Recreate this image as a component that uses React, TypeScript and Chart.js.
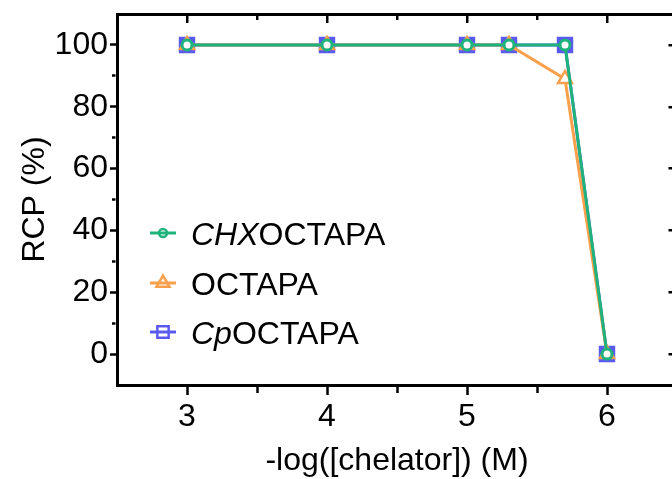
import React, { useEffect, useRef } from 'react';
import { Chart, registerables } from 'chart.js';
import { drawPoint } from 'chart.js/helpers';

Chart.register(...registerables);

// -log([chelator]) values and radiochemical purity (%)
const concentrations = [3, 4, 5, 5.3, 5.7, 6];
const chxOctapaRcp = [100, 100, 100, 100, 100, 0];
const octapaRcp = [100, 100, 100, 100, 89, 0];
const cpOctapaRcp = [100, 100, 100, 100, 100, 0];

// legend names: [italic prefix, upright remainder]
const chxName = ['CHX', 'OCTAPA'];
const octapaName = ['', 'OCTAPA'];
const cpName = ['Cp', 'OCTAPA'];

const xTickValues = [3, 3.5, 4, 4.5, 5, 5.5, 6];
const yTickValues = [0, 10, 20, 30, 40, 50, 60, 70, 80, 90, 100];
const yMirrorTickValues = [0, 20, 40, 60, 80, 100];

const FONT = '"Liberation Sans", Arial, Helvetica, sans-serif';
const FONT_SIZE = 32;
const GREEN = '#1fb27b';
const ORANGE = '#f8a04c';
const BLUE = '#5a5af0';

const CANVAS_W = 690;
const CANVAS_H = 479;

type LegendRow = {
  name: string[];
  color: string;
  style: 'circle' | 'triangle' | 'rect';
  radius: number;
  y: number;
};

const legendRows: LegendRow[] = [
  { name: chxName, color: GREEN, style: 'circle', radius: 4, y: 233 },
  { name: octapaName, color: ORANGE, style: 'triangle', radius: 7.5, y: 283 },
  { name: cpName, color: BLUE, style: 'rect', radius: 8, y: 332 },
];

const legendPlugin = {
  id: 'mixedStyleLegend',
  afterDatasetsDraw(chart: Chart) {
    const ctx = chart.ctx;
    ctx.save();
    for (const row of legendRows) {
      ctx.strokeStyle = row.color;
      ctx.lineWidth = 3;
      ctx.beginPath();
      ctx.moveTo(150, row.y);
      ctx.lineTo(176, row.y);
      ctx.stroke();
      ctx.fillStyle = 'rgba(0,0,0,0)';
      ctx.strokeStyle = row.color;
      ctx.lineWidth = 2.5;
      drawPoint(ctx, { pointStyle: row.style, radius: row.radius, rotation: 0, borderWidth: 2.5 } as any, 163, row.y);
      ctx.fillStyle = '#000';
      ctx.textBaseline = 'alphabetic';
      ctx.textAlign = 'left';
      let x = 191;
      const baseY = row.y + 11.5;
      if (row.name[0]) {
        ctx.font = `italic ${FONT_SIZE}px ${FONT}`;
        ctx.fillText(row.name[0], x, baseY);
        x += ctx.measureText(row.name[0]).width;
      }
      ctx.font = `${FONT_SIZE}px ${FONT}`;
      ctx.fillText(row.name[1], x, baseY);
    }
    ctx.restore();
  },
};

export default function App() {
  const ref = useRef<HTMLCanvasElement | null>(null);

  useEffect(() => {
    if (!ref.current) return;
    const tickFont = { size: FONT_SIZE, family: FONT };
    const chart = new Chart(ref.current, {
      type: 'line',
      data: {
        datasets: [
          {
            label: 'CHXOCTAPA',
            data: concentrations.map((x, i) => ({ x, y: chxOctapaRcp[i] })),
            borderColor: GREEN,
            backgroundColor: '#fff',
            borderWidth: 3,
            pointStyle: 'circle',
            pointRadius: 5,
            pointBorderWidth: 3,
            pointBackgroundColor: '#fff',
            pointBorderColor: GREEN,
            tension: 0,
            order: 1,
          },
          {
            label: 'OCTAPA',
            data: concentrations.map((x, i) => ({ x, y: octapaRcp[i] })),
            borderColor: ORANGE,
            backgroundColor: '#fff',
            borderWidth: 3,
            pointStyle: 'triangle',
            pointRadius: 8,
            pointBorderWidth: 2.5,
            pointBackgroundColor: '#fff',
            pointBorderColor: ORANGE,
            tension: 0,
            order: 2,
          },
          {
            label: 'CpOCTAPA',
            data: concentrations.map((x, i) => ({ x, y: cpOctapaRcp[i] })),
            borderColor: BLUE,
            backgroundColor: BLUE,
            borderWidth: 3,
            pointStyle: 'rect',
            pointRadius: 9.5,
            pointBorderWidth: 3,
            pointBackgroundColor: BLUE,
            pointBorderColor: BLUE,
            tension: 0,
            order: 3,
          },
        ],
      },
      options: {
        animation: false,
        responsive: false,
        devicePixelRatio: 1,
        layout: { padding: 0 },
        plugins: { legend: { display: false }, tooltip: { enabled: false } },
        scales: {
          x: {
            type: 'linear',
            position: 'bottom',
            min: 2.5,
            max: 6.5,
            afterBuildTicks: (s: any) => {
              s.ticks = xTickValues.map((value) => ({ value }));
            },
            afterFit: (s: any) => {
              s.height = 94;
              s.paddingLeft = 0;
              s.paddingRight = 0;
            },
            border: { display: true, color: '#000', width: 3 },
            grid: {
              drawOnChartArea: false,
              drawTicks: true,
              tickLength: 10,
              tickWidth: 2.5,
              tickColor: '#000',
              tickBorderDash: (c: any) =>
                c.tick && !Number.isInteger(c.tick.value) ? [6, 100] : [],
            },
            ticks: {
              autoSkip: false,
              maxRotation: 0,
              color: '#000',
              font: tickFont,
              padding: 3,
              callback: (v: any) => (Number.isInteger(v) ? String(v) : ''),
            },
            title: {
              display: true,
              text: '-log([chelator]) (M)',
              color: '#000',
              font: { size: FONT_SIZE, family: FONT, lineHeight: 1 },
              padding: { top: 0, bottom: 2 },
            },
          },
          x2: {
            type: 'linear',
            position: 'top',
            min: 2.5,
            max: 6.5,
            afterBuildTicks: (s: any) => {
              s.ticks = xTickValues.map((value) => ({ value }));
            },
            afterFit: (s: any) => {
              s.height = 14;
              s.paddingLeft = 0;
              s.paddingRight = 0;
            },
            ticks: { display: false },
            border: {
              display: true,
              color: '#000',
              width: 3,
              dash: (c: any) =>
                c.tick ? [Number.isInteger(c.tick.value) ? 7 : 4, 2000] : [],
            },
            grid: {
              drawOnChartArea: true,
              drawTicks: false,
              color: '#000',
              lineWidth: 2.5,
            },
          },
          y: {
            type: 'linear',
            position: 'left',
            min: -10,
            max: 110,
            afterBuildTicks: (s: any) => {
              s.ticks = yTickValues.map((value) => ({ value }));
            },
            afterFit: (s: any) => {
              s.width = 117;
              s.paddingTop = 0;
              s.paddingBottom = 0;
            },
            border: { display: true, color: '#000', width: 3 },
            grid: {
              drawOnChartArea: false,
              drawTicks: true,
              tickLength: 7,
              tickWidth: 2.5,
              tickColor: '#000',
              tickBorderDash: (c: any) =>
                c.tick && c.tick.value % 20 !== 0 ? [0, 2, 3.5, 100] : [],
            },
            ticks: {
              autoSkip: false,
              color: '#000',
              font: tickFont,
              padding: 2,
              callback: (v: any) => (v % 20 === 0 ? String(v) : ''),
            },
            title: {
              display: true,
              text: 'RCP (%)',
              color: '#000',
              font: { size: FONT_SIZE, family: FONT, lineHeight: 1 },
              padding: { top: 19, bottom: 0 },
            },
          },
          y2: {
            type: 'linear',
            position: 'right',
            min: -10,
            max: 110,
            afterBuildTicks: (s: any) => {
              s.ticks = yMirrorTickValues.map((value) => ({ value }));
            },
            afterFit: (s: any) => {
              s.width = CANVAS_W - 677;
              s.paddingTop = 0;
              s.paddingBottom = 0;
            },
            ticks: { display: false },
            border: {
              display: true,
              color: '#000',
              width: 3,
              dash: (c: any) => {
                if (!c.tick) return [];
                const area = c.chart.chartArea;
                const len = area ? area.right - area.left - 1.5 : 558;
                return [0, len - 7, 7, 2000];
              },
            },
            grid: {
              drawOnChartArea: true,
              drawTicks: false,
              color: '#000',
              lineWidth: 2.5,
            },
          },
        },
      },
      plugins: [legendPlugin],
    } as any);
    return () => chart.destroy();
  }, []);

  return (
    <div
      style={{
        position: 'fixed',
        left: 0,
        top: 0,
        width: 672,
        height: 479,
        overflow: 'hidden',
        background: '#fff',
      }}
    >
      <canvas ref={ref} width={CANVAS_W} height={CANVAS_H} style={{ display: 'block' }} />
    </div>
  );
}
